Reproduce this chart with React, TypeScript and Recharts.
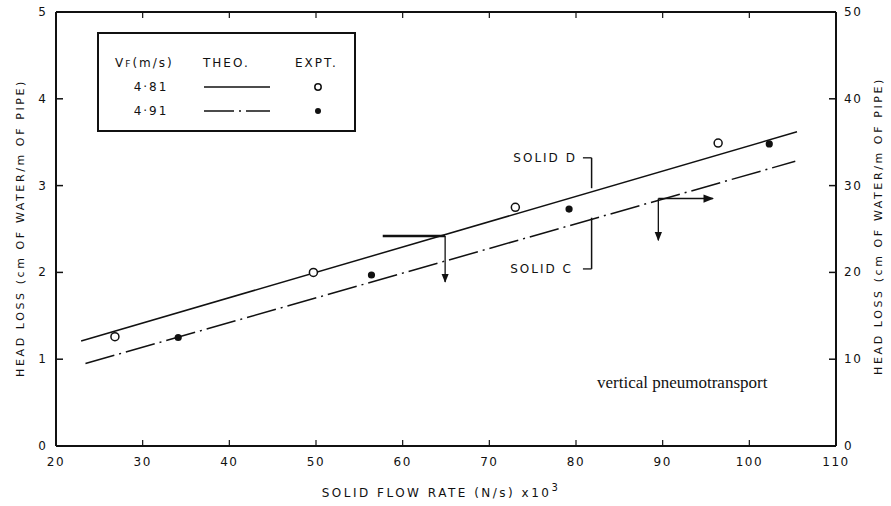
import { ComposedChart, Line, Scatter, XAxis, YAxis, ReferenceLine, ReferenceDot } from 'recharts'

// experimental points, Vf = 4.81 m/s (open circles)
const expX481 = [26.8, 49.7, 73.0, 96.4]
const expY481 = [1.26, 2.0, 2.75, 3.49]
// experimental points, Vf = 4.91 m/s (filled)
const expX491 = [34.1, 56.4, 79.2, 102.3]
const expY491 = [1.25, 1.97, 2.73, 3.48]
// theoretical lines
const theoX481 = [22.9, 105.5]
const theoY481 = [1.21, 3.62]
const theoX491 = [23.4, 105.3]
const theoY491 = [0.95, 3.28]

const xTicks = [20, 30, 40, 50, 60, 70, 80, 90, 100, 110]
const topTicks = [30, 40, 50, 60, 70, 80, 90, 100]
const yTicks = [0, 1, 2, 3, 4, 5]
const yRightTicks = [0, 10, 20, 30, 40, 50]
// extent of the secondary (top / right) axes
const secondaryX = [20, 110]
const secondaryY = [0, 50]

// annotation arrows / brackets (data units)
const arrowA = { x0: 57.7, x1: 64.9, y0: 2.42, y1: 1.89 }
const arrowB = { x0: 89.5, x1: 95.8, y0: 2.85, y1: 2.37 }
const bracketD = { x0: 80.8, x1: 81.8, y0: 3.32, y1: 2.97 }
const bracketC = { x0: 80.8, x1: 81.8, y0: 2.04, y1: 2.63 }

const zip = (xs: number[], ys: number[]) => xs.map((x, i) => ({ x, y: ys[i] }))

const ink = '#111'
const font = '"DejaVu Sans", sans-serif'

const LeftTick = ({ x, y, payload }: any) => (
  <g>
    <line x1={x} x2={x + 7} y1={y} y2={y} stroke={ink} strokeWidth={1.5} />
    <text x={x - 9} y={y} dy={4} textAnchor="end" fontSize={12} fontFamily={font} fill={ink} letterSpacing={1}>
      {payload.value}
    </text>
  </g>
)

const RightTick = ({ x, y, payload }: any) => (
  <g>
    <line x1={x - 7} x2={x} y1={y} y2={y} stroke={ink} strokeWidth={1.5} />
    <text x={x + 8} y={y} dy={4} textAnchor="start" fontSize={12} fontFamily={font} fill={ink} letterSpacing={1.5}>
      {payload.value}
    </text>
  </g>
)

const BottomTick = ({ x, y, payload }: any) => (
  <g>
    {payload.value > 20 && payload.value < 110 && (
      <line x1={x} x2={x} y1={y - 6} y2={y} stroke={ink} strokeWidth={1.2} />
    )}
    <text x={x} y={y + 20} textAnchor="middle" fontSize={12} fontFamily={font} fill={ink} letterSpacing={1.5}>
      {payload.value}
    </text>
  </g>
)

const TopTick = ({ x, y }: any) => <line x1={x} x2={x} y1={y} y2={y + 6} stroke={ink} strokeWidth={1.2} />

const LegendBox = () => (
  <div style={{ position: 'absolute', left: 97, top: 32, width: 255, height: 96, border: `2px solid ${ink}`, background: '#fff' }}>
    <svg width={255} height={96} style={{ display: 'block' }}>
      <g fontFamily={font} fontSize={12} fill={ink} letterSpacing={2}>
        <text x={16} y={33}>V<tspan fontSize={9}>F</tspan>(m/s)</text>
        <text x={104} y={33}>THEO.</text>
        <text x={196} y={33}>EXPT.</text>
        <text x={52} y={57} textAnchor="middle">4·81</text>
        <text x={52} y={81} textAnchor="middle">4·91</text>
      </g>
      <line x1={105} x2={171} y1={53} y2={53} stroke={ink} strokeWidth={1.5} />
      <line x1={105} x2={171} y1={77} y2={77} stroke={ink} strokeWidth={1.5} strokeDasharray="30 5 2 5" />
      <circle cx={219} cy={53} r={3.2} fill="#fff" stroke={ink} strokeWidth={1.5} />
      <circle cx={219} cy={77} r={3} fill={ink} />
    </svg>
  </div>
)

export default function App() {
  return (
    <div style={{ position: 'absolute', left: 0, top: 0, width: 891, height: 506, background: '#fff' }}>
      <ComposedChart width={891} height={506} margin={{ top: 0, right: 0, bottom: 0, left: 0 }}>
        <defs>
          <marker id="arrowHead" viewBox="0 0 10 10" refX="9" refY="5" markerWidth="7" markerHeight="7" orient="auto">
            <path d="M0,1 L10,5 L0,9 z" fill={ink} />
          </marker>
        </defs>
        <XAxis
          dataKey="x"
          type="number"
          domain={[20, 110]}
          ticks={xTicks}
          height={60}
          tickSize={0}
          tickMargin={0}
          tick={<BottomTick />}
          axisLine={{ stroke: ink, strokeWidth: 2 }}
          tickLine={false}
          interval={0}
        />
        <XAxis
          xAxisId="top"
          dataKey="x"
          orientation="top"
          type="number"
          domain={[20, 110]}
          ticks={topTicks}
          height={12}
          tickSize={0}
          tickMargin={0}
          tick={<TopTick />}
          axisLine={{ stroke: ink, strokeWidth: 2 }}
          tickLine={false}
          interval={0}
        />
        <YAxis
          dataKey="y"
          type="number"
          domain={[0, 5]}
          ticks={yTicks}
          width={56}
          tickSize={0}
          tickMargin={0}
          tick={<LeftTick />}
          axisLine={{ stroke: ink, strokeWidth: 2 }}
          tickLine={false}
          interval={0}
        />
        <YAxis
          yAxisId="right"
          dataKey="y"
          orientation="right"
          type="number"
          domain={[0, 50]}
          ticks={yRightTicks}
          width={55}
          tickSize={0}
          tickMargin={0}
          tick={<RightTick />}
          axisLine={{ stroke: ink, strokeWidth: 2 }}
          tickLine={false}
          interval={0}
        />

        {/* invisible series that binds the top and right axes */}
        <Scatter
          xAxisId="top"
          yAxisId="right"
          data={zip(secondaryX, secondaryY)}
          shape={() => <g />}
          isAnimationActive={false}
        />

        <Line data={zip(theoX481, theoY481)} dataKey="y" stroke={ink} strokeWidth={1.5} dot={false} isAnimationActive={false} />
        <Line
          data={zip(theoX491, theoY491)}
          dataKey="y"
          stroke={ink}
          strokeWidth={1.5}
          strokeDasharray="30 5 2 5"
          dot={false}
          isAnimationActive={false}
        />
        <Scatter data={zip(expX481, expY481)} shape={(p: any) => (
          <circle cx={p.cx} cy={p.cy} r={4} fill="#fff" stroke={ink} strokeWidth={1.5} />
        )} isAnimationActive={false} />
        <Scatter data={zip(expX491, expY491)} shape={(p: any) => (
          <circle cx={p.cx} cy={p.cy} r={3.6} fill={ink} />
        )} isAnimationActive={false} />

        <ReferenceLine segment={[{ x: arrowA.x0, y: arrowA.y0 }, { x: arrowA.x1, y: arrowA.y0 }]} stroke={ink} strokeWidth={2.5} />
        <ReferenceLine segment={[{ x: arrowA.x1, y: arrowA.y0 }, { x: arrowA.x1, y: arrowA.y1 }]} stroke={ink} strokeWidth={1.3} markerEnd="url(#arrowHead)" />
        <ReferenceLine segment={[{ x: arrowB.x0, y: arrowB.y0 }, { x: arrowB.x1, y: arrowB.y0 }]} stroke={ink} strokeWidth={1.5} markerEnd="url(#arrowHead)" />
        <ReferenceLine segment={[{ x: arrowB.x0, y: arrowB.y0 }, { x: arrowB.x0, y: arrowB.y1 }]} stroke={ink} strokeWidth={1.3} markerEnd="url(#arrowHead)" />
        <ReferenceLine segment={[{ x: bracketD.x0, y: bracketD.y0 }, { x: bracketD.x1, y: bracketD.y0 }]} stroke={ink} strokeWidth={1.3} />
        <ReferenceLine segment={[{ x: bracketD.x1, y: bracketD.y0 }, { x: bracketD.x1, y: bracketD.y1 }]} stroke={ink} strokeWidth={1.5} />
        <ReferenceLine segment={[{ x: bracketC.x0, y: bracketC.y0 }, { x: bracketC.x1, y: bracketC.y0 }]} stroke={ink} strokeWidth={1.3} />
        <ReferenceLine segment={[{ x: bracketC.x1, y: bracketC.y0 }, { x: bracketC.x1, y: bracketC.y1 }]} stroke={ink} strokeWidth={1.5} />
        <ReferenceDot x={bracketD.x0} y={bracketD.y0} r={0} stroke="none" fill="none"
          label={{ value: 'SOLID  D', position: 'left', offset: 6, fontSize: 12, fontFamily: font, fill: ink, letterSpacing: 2 }} />
        <ReferenceDot x={bracketC.x0} y={bracketC.y0} r={0} stroke="none" fill="none"
          label={{ value: 'SOLID C', position: 'left', offset: 10, fontSize: 12, fontFamily: font, fill: ink, letterSpacing: 2 }} />

        <text x={597} y={388} fontFamily='"Liberation Serif", serif' fontSize={17} fill={ink}>vertical pneumotransport</text>
        <text x={441} y={497} textAnchor="middle" fontFamily={font} fontSize={12} fill={ink} letterSpacing={2.5}>
          SOLID FLOW RATE (N/s) x10<tspan dy={-6} fontSize={10}>3</tspan>
        </text>
        <text transform="translate(24,228) rotate(-90)" textAnchor="middle" fontFamily={font} fontSize={11} fill={ink} letterSpacing={2.6}>
          HEAD LOSS (cm OF WATER/m OF PIPE)
        </text>
        <text transform="translate(882,226) rotate(-90)" textAnchor="middle" fontFamily={font} fontSize={11} fill={ink} letterSpacing={2.6}>
          HEAD LOSS (cm OF WATER/m OF PIPE)
        </text>
      </ComposedChart>
      <LegendBox />
    </div>
  )
}
